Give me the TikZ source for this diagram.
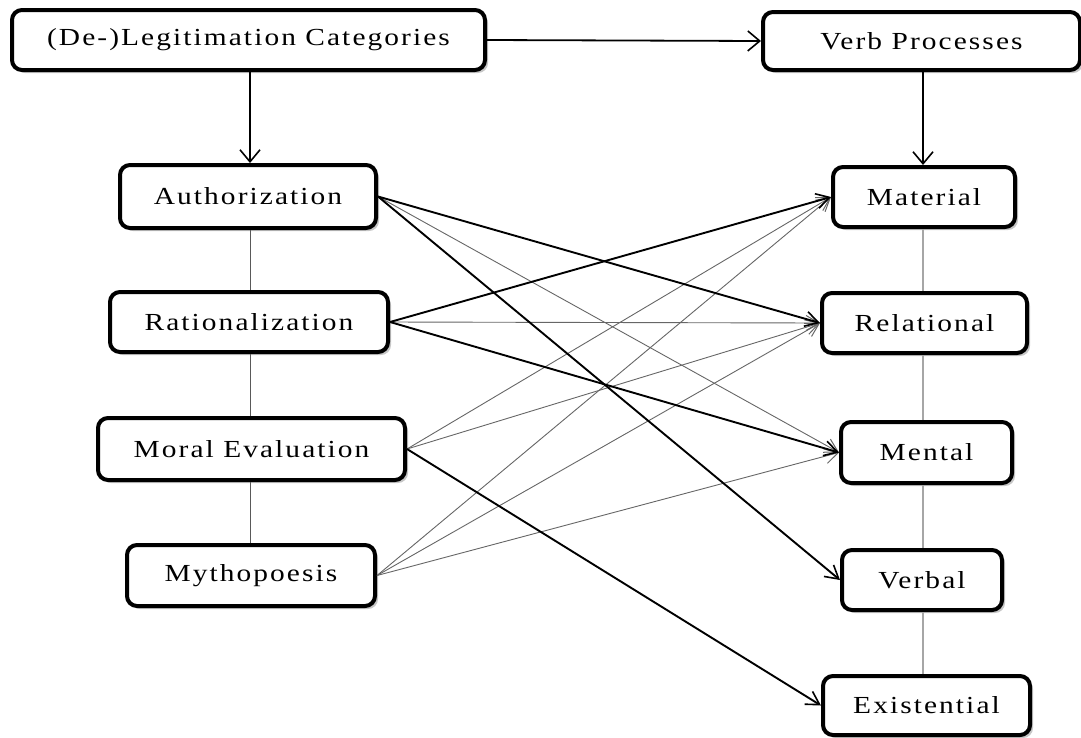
\documentclass[tikz,border=0pt]{standalone}
\usepackage{fontspec}
\setmainfont{Liberation Serif}[FakeStretch=1.2, LetterSpace=8.5]
\usetikzlibrary{arrows.meta,shadows}

\tikzset{
  x=1pt, y=-1pt,
  box/.style={draw=black, line width=4pt, rounded corners=10pt, fill=white,
    inner sep=0pt, align=center,
    font=\fontsize{24.5}{29}\selectfont,
    drop shadow={shadow xshift=3pt, shadow yshift=-3pt, fill=black, opacity=0.22}},
  tip/.style={-{Straight Barb[length=12pt,width=20pt,line width=1.6pt]}},
  mainarrow/.style={tip, line width=1.8pt},
  strong/.style={-{Straight Barb[length=13pt,width=15pt,line width=1.6pt]}, line width=1.9pt, black},
  weak/.style={-{Straight Barb[length=13pt,width=15pt,line width=1pt]}, line width=0.9pt, black!60},
  leftlink/.style={line width=1pt, black!65},
  rightlink/.style={line width=2pt, black!35},
}

\begin{document}
\begin{tikzpicture}
\useasboundingbox (0,0) rectangle (1081,737);

% headers
\node[box, minimum width=473pt, minimum height=60pt] (legit) at (248.5,40) {(De-)Legitimation Categories};
\node[box, minimum width=317pt, minimum height=58pt] (verb) at (921.5,41) {Verb Processes};

% legitimation categories
\node[box, minimum width=256pt, minimum height=63pt] (auth) at (248,196.5) {Authorization};
\node[box, minimum width=278pt, minimum height=60pt] (rat) at (249,322) {Rationalization};
\node[box, minimum width=307pt, minimum height=62pt] (moral) at (251.5,449) {Moral Evaluation};
\node[box, minimum width=248pt, minimum height=61pt] (myth) at (251,575.5) {Mythopoesis};

% verb processes
\node[box, minimum width=182pt, minimum height=60pt] (material) at (924,197) {Material};
\node[box, minimum width=205pt, minimum height=60pt] (relational) at (924.5,323) {Relational};
\node[box, minimum width=171pt, minimum height=61pt] (mental) at (926.5,452.5) {Mental};
\node[box, minimum width=160pt, minimum height=60pt] (verbal) at (922,580) {Verbal};
\node[box, minimum width=207pt, minimum height=59pt] (existential) at (926.5,705.5) {Existential};

% column links
\draw[leftlink] (auth.south -| 250,0) -- (rat.north -| 250,0);
\draw[leftlink] (rat.south -| 250,0) -- (moral.north -| 250,0);
\draw[leftlink] (moral.south -| 250,0) -- (myth.north -| 250,0);
\draw[rightlink] (material.south -| 923,0) -- (relational.north -| 923,0);
\draw[rightlink] (relational.south -| 923,0) -- (mental.north -| 923,0);
\draw[rightlink] (mental.south -| 923,0) -- (verbal.north -| 923,0);
\draw[rightlink] (verbal.south -| 923,0) -- (existential.north -| 923,0);

% header arrows
\draw[mainarrow] (legit.east) -- (verb.west);
\draw[mainarrow] (legit.south -| 250,0) -- (auth.north -| 250,0);
\draw[mainarrow] (verb.south -| 923,0) -- (material.north -| 923,0);

% category to process arrows
\draw[weak] (auth.east) -- (mental.west);
\draw[weak] (rat.east) -- (relational.west);
\draw[weak] (moral.east) -- (material.west);
\draw[weak] (moral.east) -- (relational.west);
\draw[weak] (myth.east) -- (material.west);
\draw[weak] (myth.east) -- (relational.west);
\draw[weak] (myth.east) -- (mental.west);
\draw[strong] (auth.east) -- (relational.west);
\draw[strong] (auth.east) -- (verbal.west);
\draw[strong] (rat.east) -- (material.west);
\draw[strong] (rat.east) -- (mental.west);
\draw[strong] (moral.east) -- (existential.west);
\end{tikzpicture}
\end{document}
